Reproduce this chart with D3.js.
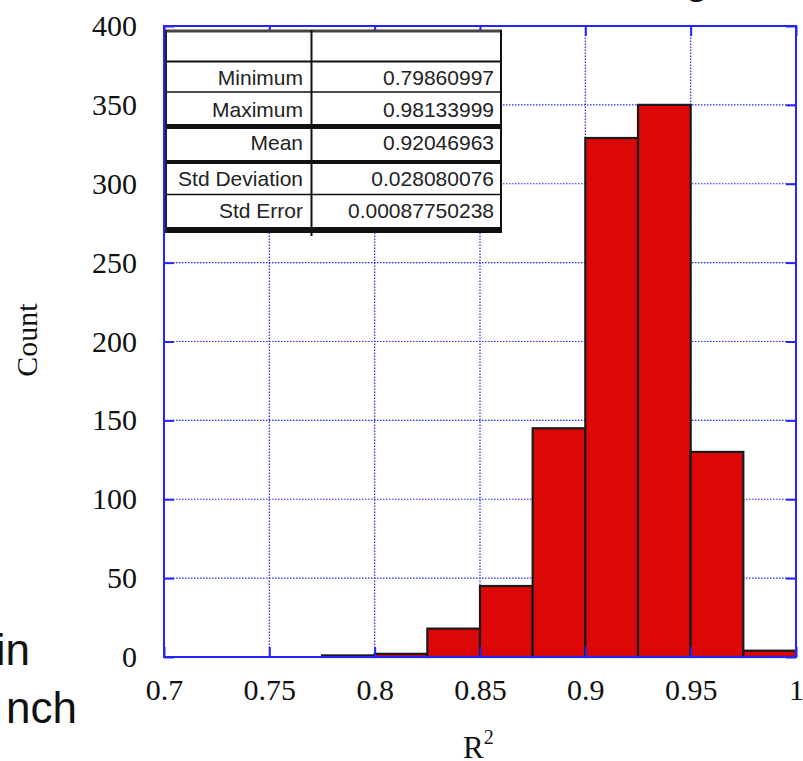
<!DOCTYPE html>
<html>
<head>
<meta charset="utf-8">
<script src="https://cdn.jsdelivr.net/npm/d3@7"></script>
<style>
  html, body { margin: 0; padding: 0; background: #fff; }
  svg { display: block; }
</style>
</head>
<body>
<script>
// ---- data ----
const binStarts = [0.775, 0.8, 0.825, 0.85, 0.875, 0.9, 0.925, 0.95, 0.975];
const binEnds   = [0.8, 0.825, 0.85, 0.875, 0.9, 0.925, 0.95, 0.975, 1.0];
const counts    = [1, 2, 18, 45, 145, 329, 350, 130, 4];
const xTicks = [0.7, 0.75, 0.8, 0.85, 0.9, 0.95, 1];
const xTickLabels = ["0.7", "0.75", "0.8", "0.85", "0.9", "0.95", "1"];
const yTicks = [0, 50, 100, 150, 200, 250, 300, 350, 400];
const yTickLabels = ["0", "50", "100", "150", "200", "250", "300", "350", "400"];
const statNames  = ["Minimum", "Maximum", "Mean", "Std Deviation", "Std Error"];
const statValues = ["0.79860997", "0.98133999", "0.92046963", "0.028080076", "0.00087750238"];
const yLabel = "Count";
const xLabel = "R";
const xLabelSup = "2";

// ---- layout ----
const W = 803, H = 761;
const margin = { left: 164, right: 7, top: 26, bottom: 104 };
const pw = W - margin.left - margin.right;
const ph = H - margin.top - margin.bottom;
const blue = "#2424ff";

const svg = d3.select("body").append("svg").attr("width", W).attr("height", H);

const x = d3.scaleLinear().domain([0.7, 1]).range([margin.left, margin.left + pw]);
const y = d3.scaleLinear().domain([0, 400]).range([margin.top + ph, margin.top]);

// grid lines
const grid = svg.append("g");
grid.selectAll("line.gx").data(xTicks.slice(1, -1)).join("line")
  .attr("x1", d => x(d)).attr("x2", d => x(d))
  .attr("y1", y(0)).attr("y2", y(400))
  .attr("stroke", blue).attr("stroke-width", 1.2).attr("stroke-dasharray", "1.5,1.5");
grid.selectAll("line.gy").data(yTicks.slice(1, -1)).join("line")
  .attr("y1", d => y(d)).attr("y2", d => y(d))
  .attr("x1", x(0.7)).attr("x2", x(1))
  .attr("stroke", blue).attr("stroke-width", 1.2).attr("stroke-dasharray", "1.5,1.5");

// bars
svg.append("g").selectAll("rect").data(counts).join("rect")
  .attr("x", (d, i) => x(binStarts[i]))
  .attr("width", (d, i) => x(binEnds[i]) - x(binStarts[i]))
  .attr("y", d => y(d))
  .attr("height", d => y(0) - y(d))
  .attr("fill", "#dc0808")
  .attr("stroke", "#1a1a1a").attr("stroke-width", 2.2);

// axes with inward ticks (all four sides)
const tickLen = 10;
const axB = d3.axisBottom(x).tickValues(xTicks).tickFormat((d, i) => xTickLabels[i]).tickSizeInner(-tickLen).tickSizeOuter(0).tickPadding(22);
const axT = d3.axisTop(x).tickValues(xTicks).tickFormat("").tickSizeInner(-tickLen).tickSizeOuter(0);
const axL = d3.axisLeft(y).tickValues(yTicks).tickFormat((d, i) => yTickLabels[i]).tickSizeInner(-tickLen).tickSizeOuter(0).tickPadding(27);
const axR = d3.axisRight(y).tickValues(yTicks).tickFormat("").tickSizeInner(-tickLen).tickSizeOuter(0);

function styleAxis(g) {
  g.select(".domain").remove();
  g.selectAll(".tick line").attr("stroke", blue).attr("stroke-width", 2);
  g.selectAll(".tick text").attr("fill", "#111")
    .style("font-family", "'Liberation Serif', 'Times New Roman', serif")
    .style("font-size", "30px");
}
svg.append("g").attr("transform", `translate(0,${y(0)})`).call(axB).call(styleAxis);
svg.append("g").attr("transform", `translate(0,${y(400)})`).call(axT).call(styleAxis);
svg.append("g").attr("transform", `translate(${x(0.7)},0)`).call(axL).call(styleAxis);
svg.append("g").attr("transform", `translate(${x(1)},0)`).call(axR).call(styleAxis);

// frame
svg.append("rect")
  .attr("x", x(0.7)).attr("y", y(400))
  .attr("width", x(1) - x(0.7)).attr("height", y(0) - y(400))
  .attr("fill", "none").attr("stroke", blue).attr("stroke-width", 2);

// axis titles
svg.append("text")
  .attr("transform", "translate(37,340) rotate(-90)")
  .attr("text-anchor", "middle")
  .style("font-family", "'Liberation Serif', 'Times New Roman', serif")
  .style("font-size", "30px").attr("fill", "#111")
  .text(yLabel);
const xl = svg.append("text")
  .attr("x", 463).attr("y", 758)
  .style("font-family", "'Liberation Serif', 'Times New Roman', serif")
  .style("font-size", "31px").attr("fill", "#111");
xl.append("tspan").text(xLabel);
xl.append("tspan").attr("dy", -14).style("font-size", "20px").text(xLabelSup);

// stats table
const tb = svg.append("g");
const tL = 165, tR = 502, tC = 311.5, tT = 30, tB = 233;
const rowLines = [ {y: 61.5, w: 2}, {y: 92, w: 1.5}, {y: 126.5, w: 5}, {y: 162, w: 4}, {y: 194.5, w: 1.5}, {y: 230, w: 6} ];
const baselines = [85, 117, 150, 186, 218];
tb.append("rect").attr("x", tL).attr("y", tT).attr("width", tR - tL).attr("height", tB - tT).attr("fill", "#fff");
tb.append("line").attr("x1", tL).attr("x2", tR).attr("y1", 31).attr("y2", 31).attr("stroke", "#444").attr("stroke-width", 3);
rowLines.forEach(r => {
  tb.append("line").attr("x1", tL).attr("x2", tR).attr("y1", r.y).attr("y2", r.y).attr("stroke", "#111").attr("stroke-width", r.w);
});
tb.append("line").attr("x1", 166).attr("x2", 166).attr("y1", tT).attr("y2", tB).attr("stroke", "#222").attr("stroke-width", 2);
tb.append("line").attr("x1", tC).attr("x2", tC).attr("y1", tT).attr("y2", tB + 3).attr("stroke", "#111").attr("stroke-width", 2);
tb.append("line").attr("x1", 501).attr("x2", 501).attr("y1", tT).attr("y2", tB).attr("stroke", "#111").attr("stroke-width", 2);
tb.selectAll("text.n").data(statNames).join("text")
  .attr("x", 303).attr("y", (d, i) => baselines[i]).attr("text-anchor", "end")
  .style("font-family", "'Liberation Sans', Arial, sans-serif").style("font-size", "21px").attr("fill", "#222")
  .text(d => d);
tb.selectAll("text.v").data(statValues).join("text")
  .attr("x", 494).attr("y", (d, i) => baselines[i]).attr("text-anchor", "end")
  .style("font-family", "'Liberation Sans', Arial, sans-serif").style("font-size", "21px").attr("fill", "#222")
  .text(d => d);

// cropped text fragments from the surrounding slide
const frag = svg.append("g").style("font-family", "'Liberation Sans', Arial, sans-serif").style("font-size", "44px").attr("fill", "#111");
frag.append("text").attr("x", 30).attr("y", 665).attr("text-anchor", "end").text("in");
frag.append("text").attr("x", 77).attr("y", 723).attr("text-anchor", "end").text("nch");
frag.append("text").attr("x", 697).attr("y", -7).attr("text-anchor", "middle").text("g");
</script>
</body>
</html>
